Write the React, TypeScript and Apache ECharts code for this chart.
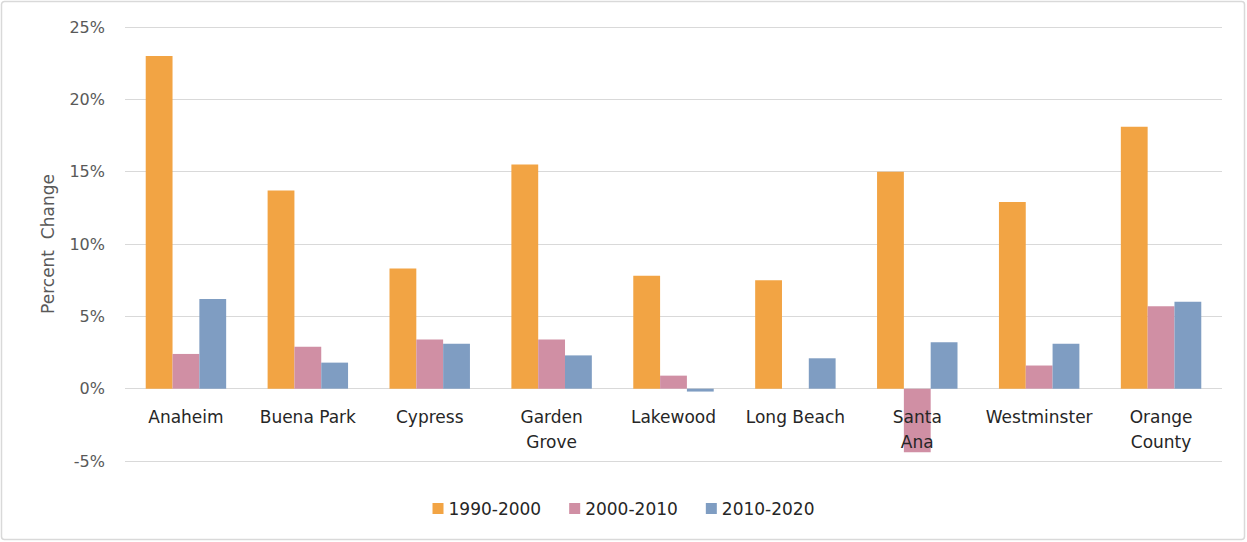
import React, { useEffect, useRef } from "react";
import * as echarts from "echarts";

const categories = ["Anaheim", "Buena Park", "Cypress", "Garden\nGrove", "Lakewood", "Long Beach", "Santa\nAna", "Westminster", "Orange\nCounty"];
const s1990 = [23.0, 13.7, 8.3, 15.5, 7.8, 7.5, 15.0, 12.9, 18.1];
const s2000 = [2.4, 2.9, 3.4, 3.4, 0.9, 0, -4.4, 1.6, 5.7];
const s2010 = [6.2, 1.8, 3.1, 2.3, -0.2, 2.1, 3.2, 3.1, 6.0];
const seriesNames = ["1990-2000", "2000-2010", "2010-2020"];
const colors = ["#F2A444", "#D08FA4", "#7F9DC2"];

export default function App() {
  const ref = useRef<HTMLDivElement>(null);
  useEffect(() => {
    if (!ref.current) return;
    const chart = echarts.init(ref.current, null, { renderer: "svg" });
    const font = "'DejaVu Sans', sans-serif";
    const data = [s1990, s2000, s2010];
    chart.setOption({
      animation: false,
      textStyle: { fontFamily: font },
      graphic: [
        {
          type: "rect",
          shape: { x: 1.5, y: 1.5, width: 1243, height: 538, r: 3 },
          style: { fill: "none", stroke: "#d9d9d9", lineWidth: 1.5 },
        },
      ],
      grid: { left: 125, right: 25, top: 27, bottom: 81, containLabel: false },
      legend: {
        bottom: 20,
        left: "center",
        itemWidth: 11,
        itemHeight: 11,
        itemGap: 28,
        icon: "rect",
        textStyle: { fontSize: 17, color: "#262626", fontFamily: font },
        data: seriesNames,
      },
      xAxis: {
        type: "category",
        data: categories,
        z: 10,
        axisLine: { show: false },
        axisTick: { show: false },
        axisLabel: { interval: 0, fontSize: 17, color: "#262626", margin: -57, lineHeight: 25, fontFamily: font },
      },
      yAxis: {
        type: "value",
        min: -5,
        max: 25,
        interval: 5,
        name: "Percent  Change",
        nameLocation: "middle",
        nameGap: 69,
        nameTextStyle: { fontSize: 17, color: "#595959", fontFamily: font },
        axisLabel: { formatter: "{value}%", fontSize: 16, color: "#595959", margin: 20, fontFamily: font },
        axisLine: { show: false },
        axisTick: { show: false },
        splitLine: { lineStyle: { color: "#d9d9d9", width: 1 } },
      },
      series: seriesNames.map((n, i) => ({
        name: n,
        type: "bar",
        data: data[i],
        barGap: "0%",
        barCategoryGap: "34%",
        itemStyle: { color: colors[i] },
      })),
    });
    return () => chart.dispose();
  }, []);
  return <div ref={ref} style={{ position: "fixed", left: 0, top: 0, width: 1247, height: 542, background: "#fff" }} />;
}
